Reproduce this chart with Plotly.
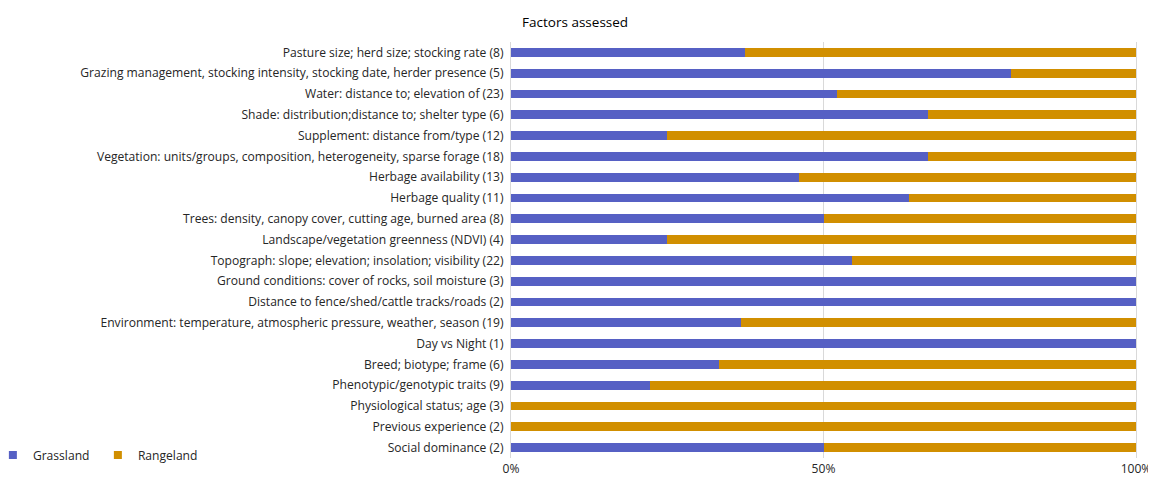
import plotly.graph_objects as go

categories = [
    "Pasture size; herd size; stocking rate (8)",
    "Grazing management, stocking intensity, stocking date, herder presence (5)",
    "Water: distance to; elevation of (23)",
    "Shade: distribution;distance to; shelter type (6)",
    "Supplement: distance from/type (12)",
    "Vegetation: units/groups, composition, heterogeneity, sparse forage (18)",
    "Herbage availability (13)",
    "Herbage quality (11)",
    "Trees: density, canopy cover, cutting age, burned area (8)",
    "Landscape/vegetation greenness (NDVI) (4)",
    "Topograph: slope; elevation; insolation; visibility (22)",
    "Ground conditions: cover of rocks, soil moisture (3)",
    "Distance to fence/shed/cattle tracks/roads (2)",
    "Environment: temperature, atmospheric pressure, weather, season (19)",
    "Day vs Night (1)",
    "Breed; biotype; frame (6)",
    "Phenotypic/genotypic traits (9)",
    "Physiological status; age (3)",
    "Previous experience (2)",
    "Social dominance (2)",
]
grassland = [3, 4, 12, 4, 3, 12, 6, 7, 4, 1, 12, 3, 2, 7, 1, 2, 2, 0, 0, 1]
rangeland = [5, 1, 11, 2, 9, 6, 7, 4, 4, 3, 10, 0, 0, 12, 0, 4, 7, 3, 2, 1]
x_ticks = [0, 50, 100]
x_tick_labels = ["0%", "50%", "100%"]
series_names = ["Grassland", "Rangeland"]
series_colors = ["#5660C4", "#D18F00"]

FONT = "Open Sans"
TXT = "#262626"
SZ = 12.1

fig = go.Figure()
for name, vals, col in zip(series_names, [grassland, rangeland], series_colors):
    fig.add_trace(go.Bar(y=categories, x=vals, name=name, orientation="h",
                         marker=dict(color=col, line=dict(width=0)),
                         showlegend=False))
# legend entries with small square symbols
for name, col in zip(series_names, series_colors):
    fig.add_trace(go.Scatter(x=[None], y=[None], mode="markers", name=name,
                             marker=dict(symbol="square", size=8, color=col),
                             showlegend=True))

fig.update_layout(
    barmode="stack",
    barnorm="percent",
    bargap=0.57,
    width=1148, height=470,
    margin=dict(l=503, r=20, t=34, b=20, autoexpand=False),
    paper_bgcolor="white", plot_bgcolor="white",
    font=dict(family=FONT, size=SZ, color=TXT),
    title=dict(text="Factors assessed", x=0.494, xref="container", xanchor="center",
               y=0.970, yref="container", yanchor="middle",
               font=dict(family=FONT, size=13.5, color="#000000")),
    legend=dict(orientation="h", x=-0.829, xanchor="left", y=0.007, yanchor="middle",
                font=dict(family=FONT, size=SZ, color=TXT),
                itemwidth=30, entrywidth=60, entrywidthmode="pixels",
                traceorder="normal", bgcolor="rgba(0,0,0,0)"),
    showlegend=True,
)
fig.update_xaxes(range=[0, 100], tickvals=x_ticks, ticktext=x_tick_labels,
                 showgrid=True, gridcolor="#D9D9D9", gridwidth=1, zeroline=False,
                 showline=False, ticks="", automargin=False, ticklabelstandoff=2,
                 tickfont=dict(family=FONT, size=SZ, color=TXT))
fig.update_yaxes(autorange="reversed", showgrid=False, showline=True, mirror=True,
                 linecolor="#D9D9D9", linewidth=1, ticks="",
                 automargin=False, ticklabelstandoff=4,
                 tickfont=dict(family=FONT, size=SZ, color=TXT))

fig.write_html("out.html")
